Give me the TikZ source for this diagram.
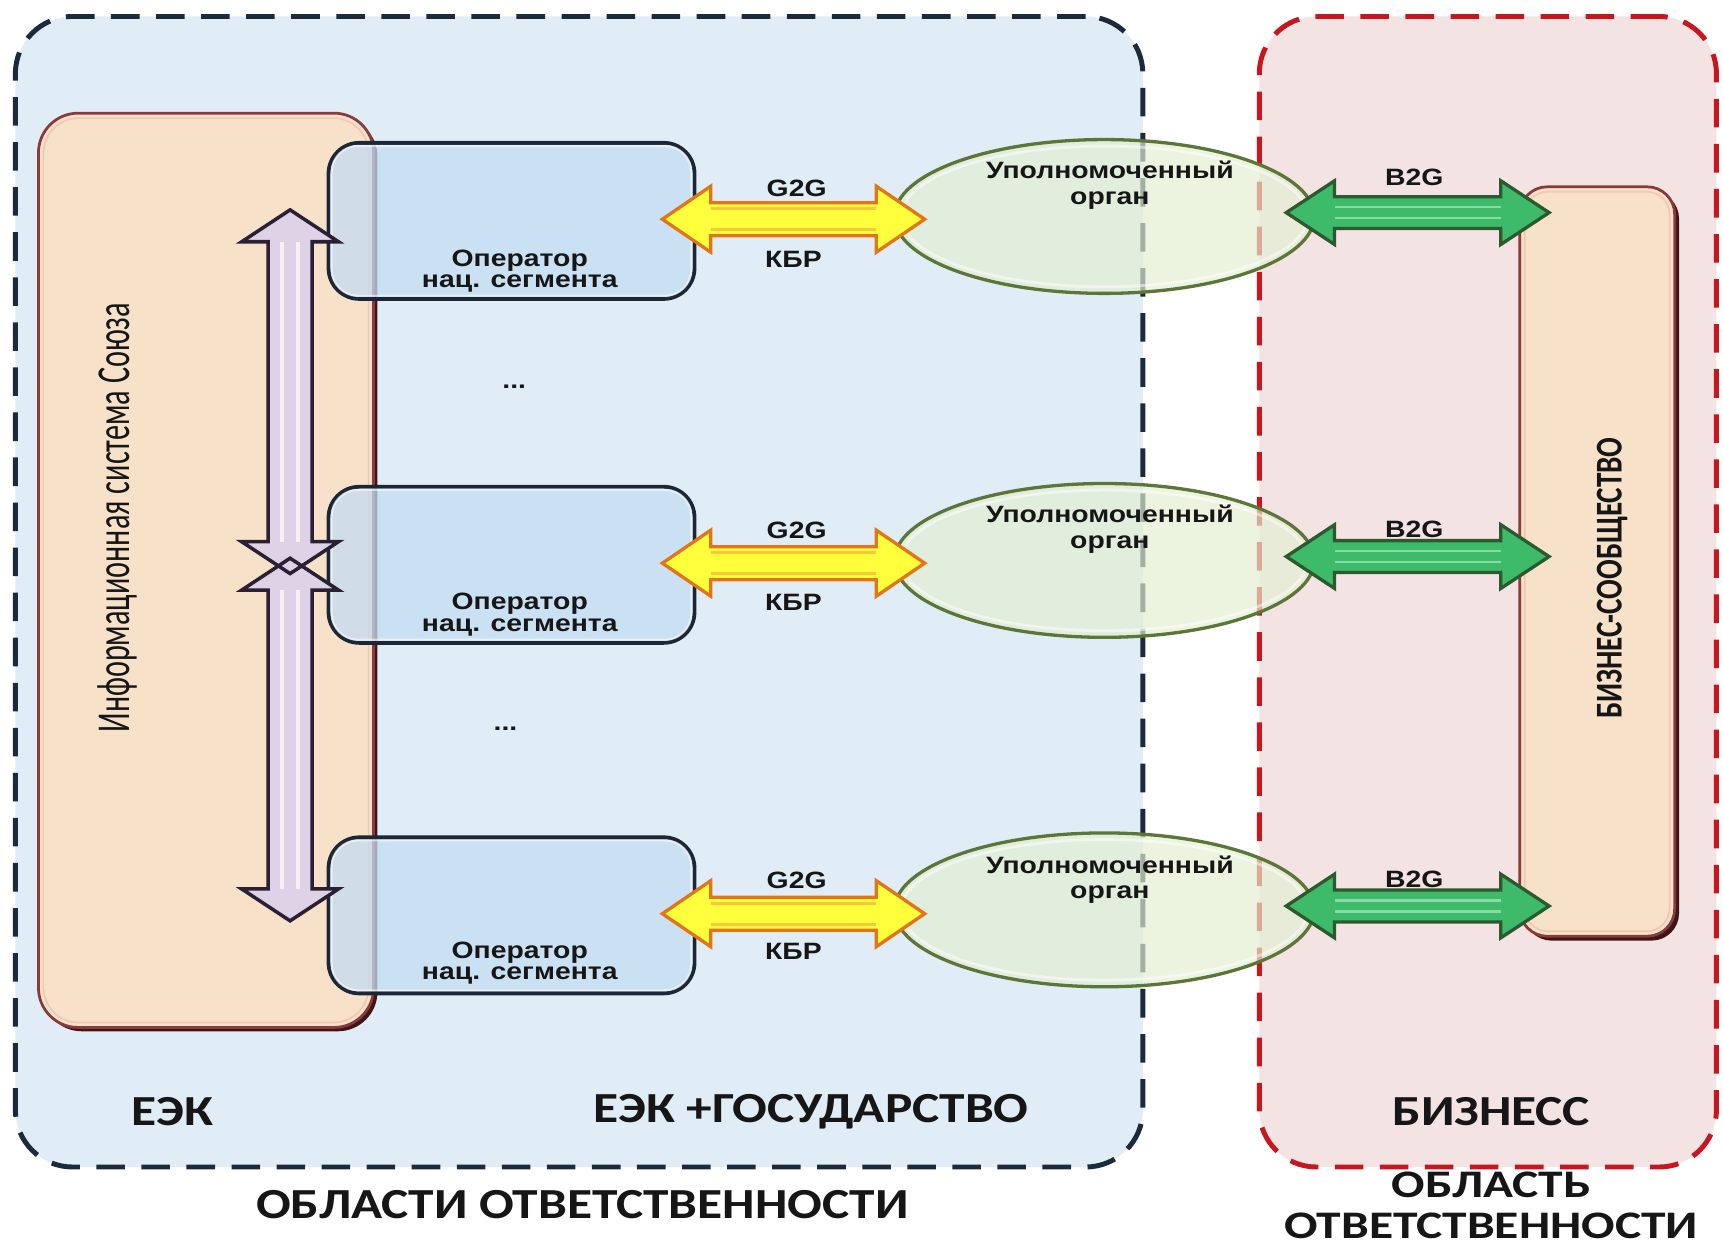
\documentclass[tikz,border=0pt]{standalone}
\usepackage{fontspec}
\usepackage{graphicx}
\setmainfont{Liberation Sans}
\newfontfamily\lsw{Liberation Sans}[FakeStretch=1.2]
\newfontfamily\lsn{Liberation Sans}
\newfontfamily\cbw{Carlito}[FakeStretch=1.2]
\newfontfamily\cbx{Carlito}[FakeStretch=1.27]
\newfontfamily\cbn{Carlito}
\usetikzlibrary{calc,shapes.geometric}

\definecolor{eekfill}{HTML}{E0EDF6}
\definecolor{eekline}{HTML}{1C2B3C}
\definecolor{bizfill}{HTML}{F3E3E3}
\definecolor{bizline}{HTML}{C8161E}
\definecolor{peach}{HTML}{F7E2C9}
\definecolor{peachhi}{HTML}{EFC8B4}
\definecolor{maroon}{HTML}{8A3A3A}
\definecolor{maroondk}{HTML}{3E1616}
\definecolor{opfill}{HTML}{C3DCF2}
\definecolor{opline}{HTML}{1B2636}
\definecolor{ovfill}{HTML}{E4EFD2}
\definecolor{ovline}{HTML}{5B7638}
\definecolor{yfill}{HTML}{FFFF3C}
\definecolor{yline}{HTML}{E2741A}
\definecolor{ystr}{HTML}{F6C83A}
\definecolor{gfill}{HTML}{3DBA6A}
\definecolor{gline}{HTML}{2C5A2E}
\definecolor{gstr}{HTML}{86DCA2}
\definecolor{pfill}{HTML}{DED2E7}
\definecolor{pline}{HTML}{2A2034}
\definecolor{ink}{HTML}{161616}

% horizontal block double arrow: body style, stripe style, left tip, right tip,
% shaft half height, head half height, head length, stripe offset
\newcommand\hdarrow[8]{%
  \path[#1] let \p1=(#3), \p2=(#4) in
    (\x1,\y1) -- (\x1+#7,\y1+#6) -- (\x1+#7,\y1+#5) -- (\x2-#7,\y1+#5)
    -- (\x2-#7,\y1+#6) -- (\x2,\y1) -- (\x2-#7,\y1-#6) -- (\x2-#7,\y1-#5)
    -- (\x1+#7,\y1-#5) -- (\x1+#7,\y1-#6) -- cycle;
  \path[#2] let \p1=(#3), \p2=(#4) in
    (\x1+#7,\y1+#8) -- (\x2-#7,\y1+#8) (\x1+#7,\y1-#8) -- (\x2-#7,\y1-#8);
}
% vertical block double arrow: body style, stripe style, top tip, bottom tip,
% shaft half width, head half width, head length, stripe offset
\newcommand\vdarrow[8]{%
  \path[#1] let \p1=(#3), \p2=(#4) in
    (\x1,\y1) -- (\x1+#6,\y1-#7) -- (\x1+#5,\y1-#7) -- (\x1+#5,\y2+#7)
    -- (\x1+#6,\y2+#7) -- (\x1,\y2) -- (\x1-#6,\y2+#7) -- (\x1-#5,\y2+#7)
    -- (\x1-#5,\y1-#7) -- (\x1-#6,\y1-#7) -- cycle;
  \path[#2] let \p1=(#3), \p2=(#4) in
    (\x1+#8,\y1-#7) -- (\x1+#8,\y2+#7) (\x1-#8,\y1-#7) -- (\x1-#8,\y2+#7);
}

\begin{document}
\begin{tikzpicture}[x=1pt,y=-1pt,
  zone/.style={rectangle, rounded corners=52pt, line width=4.5pt,
    dash pattern=on 26pt off 15pt, inner sep=0pt, outer sep=0pt},
  pbox/.style={rectangle, rounded corners=36pt, fill=peach, draw=maroon,
    line width=2.5pt, inner sep=0pt},
  opbox/.style={rectangle, rounded corners=28pt, minimum width=333pt,
    minimum height=142pt, fill=opfill, fill opacity=0.75, draw=opline,
    line width=3.5pt, inner sep=0pt},
  ovbox/.style={ellipse, minimum width=382pt, minimum height=140pt,
    fill=ovfill, fill opacity=0.68, draw=ovline, line width=3pt, inner sep=0pt},
  optext/.style={font=\lsw\bfseries\fontsize{21.5}{19.5}\selectfont,
    align=center, text=ink, inner sep=0pt},
  uatext/.style={font=\lsw\bfseries\fontsize{21.5}{23}\selectfont,
    align=center, text=ink, inner sep=0pt},
  arrlab/.style={font=\lsw\bfseries\fontsize{21.5}{21.5}\selectfont,
    text=ink, inner sep=0pt},
  zlab/.style={font=\cbw\bfseries\fontsize{39}{36}\selectfont,
    text=ink, inner sep=0pt, align=center},
  yarr/.style={fill=yfill, draw=yline, line width=3pt},
  ystripe/.style={draw=ystr, line width=2.5pt},
  garr/.style={fill=gfill, draw=gline, line width=3pt},
  gstripe/.style={draw=gstr, line width=2pt},
  parrfill/.style={fill=pfill},
  parrline/.style={draw=pline, line width=3.2pt},
  pstripe/.style={draw=white, opacity=0.7, line width=3.5pt},
  hilite/.style={draw=white, opacity=0.55, line width=2pt}
]
\useasboundingbox (0,0) rectangle (1568,1137);
\fill[white] (0,0) rectangle (1568,1137);

% areas of responsibility
\node[zone, draw=eekline, fill=eekfill, minimum width=1026pt,
  minimum height=1047pt] (zoneA) at (527,538.5) {};
\node[zone, draw=bizline, fill=bizfill, minimum width=416pt,
  minimum height=1047pt] (zoneB) at (1354,538.5) {};

% Union information system
\fill[maroondk, rounded corners=36pt] (38.5,106.5) rectangle (343.5,938.5);
\node[pbox, minimum width=305pt, minimum height=832pt] (isys) at (187.5,519) {};
\draw[peachhi, line width=1.5pt, rounded corners=32pt] (39.5,107.5) rectangle (335.5,930.5);

% business community
\fill[maroondk, rounded corners=25pt] (1387,174) rectangle (1528,856);
\node[pbox, rounded corners=25pt, minimum width=141pt, minimum height=682pt]
  (bizc) at (1453.5,511) {};
\draw[peachhi, line width=1.5pt, rounded corners=21pt] (1387.5,174.5) rectangle (1519.5,847.5);

% national segment operators
\foreach \i/\yy in {1/201,2/514,3/833}{
  \node[opbox] (op\i) at (465.5,\yy) {};
  \draw[hilite, rounded corners=24pt]
    ($(op\i.south west)+(4.5,-4.5)$) rectangle ($(op\i.north east)+(-4.5,4.5)$);
}

% authorised bodies
\foreach \i/\yy in {1/197,2/510,3/828}{
  \node[ovbox] (ua\i) at (1005,\yy) {};
  \draw[white, opacity=0.5, line width=2.5pt] (ua\i.center) ellipse (185 and 64);
}

% arrow end points
\foreach \i in {1,2,3}{
  \coordinate (ya\i) at ([xshift=-31pt,yshift=1.5pt]op\i.east);
  \coordinate (yb\i) at ([xshift=29pt]ua\i.west);
  \coordinate (ga\i) at ([xshift=-27pt,yshift=3.5pt]ua\i.east);
  \coordinate (gb\i) at ([xshift=28pt]bizc.west);
}
\coordinate (pa1) at (264,191);
\coordinate (pb1) at (264,522);
\coordinate (pa2) at (264,508);
\coordinate (pb2) at (264,838);

% G2G arrows
\foreach \i in {1,2,3}{
  \hdarrow{yarr}{ystripe}{ya\i}{yb\i}{15pt}{30pt}{44pt}{9.5pt}
}
% B2G arrows
\foreach \i in {1,2,3}{
  \hdarrow{garr}{gstripe}{ga\i}{gb\i}{14.5pt}{29pt}{44pt}{5pt}
}
% links inside the Union system
\vdarrow{parrfill}{pstripe}{pa1}{pb1}{20pt}{44pt}{29pt}{7.5pt}
\vdarrow{parrfill}{pstripe}{pa2}{pb2}{20pt}{44pt}{29pt}{7.5pt}
\vdarrow{parrline}{}{pa1}{pb1}{20pt}{44pt}{29pt}{7.5pt}
\vdarrow{parrline}{}{pa2}{pb2}{20pt}{44pt}{29pt}{7.5pt}

% texts
\node[rotate=90, font=\cbn\fontsize{31}{31}\selectfont, text=ink, inner sep=0pt]
  (isyst) at (107,471) {\resizebox{391pt}{29pt}{Информационная система Союза}};
\node[rotate=90, font=\cbn\bfseries\fontsize{26.5}{26.5}\selectfont, text=ink, inner sep=0pt]
  (bizct) at (1467,526) {\scalebox{1}[1.3]{БИЗНЕС-СООБЩЕСТВО}};

\node[optext] (op1t) at (473,246.5) {Оператор\\нац. сегмента};
\node[optext] (op2t) at (473,559.5) {Оператор\\нац. сегмента};
\node[optext] (op3t) at (473,876.5) {Оператор\\нац. сегмента};

\node[arrlab] (dots1) at (468,352) {...};
\node[arrlab] (dots2) at (460,663) {...};

\node[uatext] (ua1t) at (1010,168.5) {Уполномоченный\\орган};
\node[uatext] (ua2t) at (1010,481.5) {Уполномоченный\\орган};
\node[uatext] (ua3t) at (1010,800.5) {Уполномоченный\\орган};

\node[arrlab] (g1) at (725,171) {G2G};
\node[arrlab] (g2) at (725,483) {G2G};
\node[arrlab] (g3) at (725,801) {G2G};
\node[arrlab] (k1) at (722,236) {КБР};
\node[arrlab] (k2) at (722,548) {КБР};
\node[arrlab] (k3) at (722,866) {КБР};
\node[arrlab] (b1) at (1287,161) {B2G};
\node[arrlab] (b2) at (1287,482) {B2G};
\node[arrlab] (b3) at (1287,800) {B2G};

\node[zlab] (lab1) at (157,1012) {ЕЭК};
\node[zlab] (lab2) at (738,1012) {ЕЭК +ГОСУДАРСТВО};
\node[zlab] (lab3) at (1357,1012) {БИЗНЕСС};
\node[zlab] (lab4) at (530,1096) {ОБЛАСТИ ОТВЕТСТВЕННОСТИ};
\node[zlab, font=\cbx\bfseries\fontsize{35.5}{37.5}\selectfont] (lab5) at (1357,1097)
  {ОБЛАСТЬ\\ОТВЕТСТВЕННОСТИ};
\end{tikzpicture}
\end{document}
